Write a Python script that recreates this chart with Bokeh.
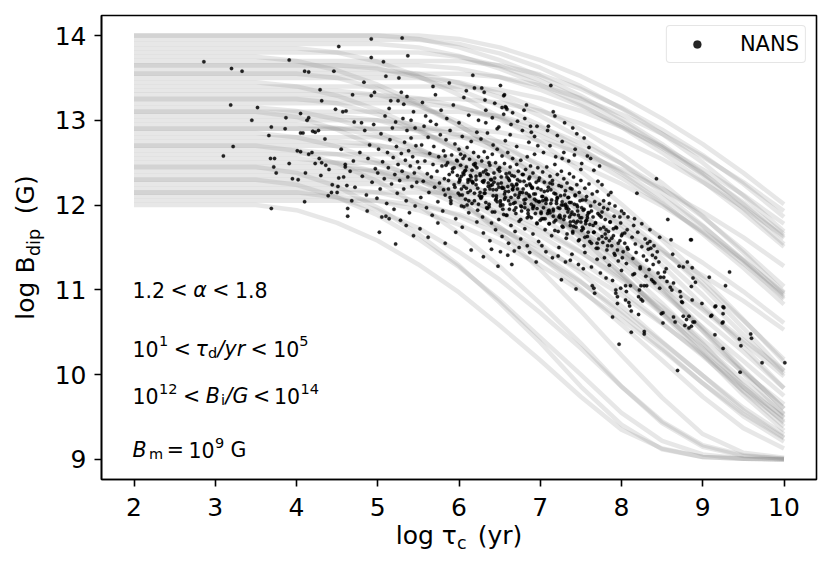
from bokeh.plotting import figure
from bokeh.models import Range1d, FixedTicker, Label, Legend, LegendItem, Title
from bokeh.embed import file_html
from bokeh.resources import INLINE

# ---------------- data: field-decay tracks (log B at each log tau_c) ----------------
track_logtau = [2.0, 2.5, 3.0, 3.5, 4.0, 4.5, 5.0, 5.5, 6.0, 6.5, 7.0, 7.5, 8.0, 8.5, 9.0, 9.5, 10.0]

decay_01 = [12.00, 12.00, 12.00, 12.00, 11.94, 11.79, 11.58, 11.30, 10.97, 10.58, 10.17, 9.74, 9.35, 9.13, 9.03, 9.01, 9.00]
decay_02 = [12.05, 12.05, 12.05, 12.05, 12.05, 12.05, 12.05, 12.00, 11.89, 11.72, 11.50, 11.24, 10.94, 10.60, 10.24, 9.85, 9.50]
decay_03 = [12.10, 12.10, 12.10, 12.10, 12.10, 12.10, 12.05, 11.94, 11.77, 11.55, 11.29, 10.99, 10.65, 10.29, 9.90, 9.54, 9.25]
decay_04 = [12.15, 12.15, 12.15, 12.15, 12.15, 12.15, 12.15, 12.15, 12.15, 12.11, 12.01, 11.86, 11.67, 11.44, 11.17, 10.87, 10.53]
decay_05 = [12.20, 12.20, 12.20, 12.20, 12.20, 12.20, 12.15, 12.04, 11.87, 11.65, 11.39, 11.09, 10.75, 10.38, 9.99, 9.61, 9.30]
decay_06 = [12.25, 12.25, 12.25, 12.25, 12.25, 12.25, 12.25, 12.20, 12.09, 11.92, 11.70, 11.44, 11.14, 10.80, 10.41, 10.03, 9.65]
decay_07 = [12.30, 12.30, 12.30, 12.30, 12.30, 12.30, 12.30, 12.30, 12.25, 12.12, 11.93, 11.69, 11.40, 11.06, 10.67, 10.27, 9.84]
decay_08 = [12.35, 12.35, 12.35, 12.35, 12.35, 12.35, 12.35, 12.30, 12.17, 11.98, 11.74, 11.45, 11.11, 10.72, 10.31, 9.88, 9.49]
decay_09 = [12.40, 12.40, 12.40, 12.40, 12.40, 12.40, 12.40, 12.36, 12.26, 12.11, 11.92, 11.69, 11.42, 11.12, 10.78, 10.41, 10.05]
decay_10 = [12.45, 12.45, 12.45, 12.45, 12.45, 12.45, 12.40, 12.29, 12.12, 11.90, 11.64, 11.34, 11.00, 10.61, 10.22, 9.81, 9.45]
decay_11 = [12.50, 12.50, 12.50, 12.50, 12.50, 12.50, 12.50, 12.50, 12.50, 12.44, 12.29, 12.08, 11.80, 11.47, 11.08, 10.64, 10.18]
decay_12 = [12.55, 12.55, 12.55, 12.55, 12.55, 12.50, 12.39, 12.22, 12.00, 11.74, 11.44, 11.10, 10.71, 10.31, 9.90, 9.51, 9.21]
decay_13 = [12.60, 12.60, 12.60, 12.60, 12.60, 12.60, 12.60, 12.60, 12.56, 12.46, 12.31, 12.12, 11.89, 11.62, 11.32, 10.98, 10.61]
decay_14 = [12.65, 12.65, 12.65, 12.65, 12.65, 12.60, 12.49, 12.32, 12.10, 11.84, 11.54, 11.20, 10.81, 10.39, 9.99, 9.58, 9.26]
decay_15 = [12.70, 12.70, 12.70, 12.70, 12.70, 12.70, 12.70, 12.64, 12.49, 12.28, 12.00, 11.67, 11.28, 10.84, 10.37, 9.86, 9.43]
decay_16 = [12.75, 12.75, 12.75, 12.75, 12.75, 12.75, 12.71, 12.61, 12.46, 12.27, 12.04, 11.77, 11.47, 11.13, 10.76, 10.38, 9.98]
decay_17 = [12.80, 12.80, 12.80, 12.80, 12.80, 12.80, 12.80, 12.80, 12.80, 12.75, 12.64, 12.47, 12.25, 11.99, 11.69, 11.35, 10.96]
decay_18 = [12.85, 12.85, 12.85, 12.85, 12.80, 12.69, 12.52, 12.30, 12.04, 11.74, 11.40, 11.01, 10.59, 10.17, 9.74, 9.37, 9.13]
decay_19 = [12.90, 12.90, 12.90, 12.90, 12.90, 12.90, 12.90, 12.90, 12.84, 12.69, 12.48, 12.20, 11.87, 11.48, 11.04, 10.55, 10.04]
decay_20 = [12.95, 12.95, 12.95, 12.95, 12.95, 12.91, 12.81, 12.66, 12.47, 12.24, 11.97, 11.67, 11.33, 10.96, 10.56, 10.16, 9.75]
decay_21 = [13.00, 13.00, 13.00, 13.00, 13.00, 13.00, 13.00, 12.95, 12.82, 12.63, 12.39, 12.10, 11.76, 11.37, 10.94, 10.47, 10.01]
decay_22 = [13.05, 13.05, 13.05, 13.05, 13.05, 13.05, 13.00, 12.87, 12.68, 12.44, 12.15, 11.81, 11.42, 10.99, 10.52, 10.05, 9.60]
decay_23 = [13.10, 13.10, 13.10, 13.10, 13.10, 13.10, 13.10, 13.10, 13.10, 13.05, 12.92, 12.73, 12.49, 12.20, 11.86, 11.47, 11.04]
decay_24 = [13.15, 13.15, 13.15, 13.15, 13.11, 13.01, 12.86, 12.67, 12.44, 12.17, 11.87, 11.53, 11.16, 10.76, 10.35, 9.93, 9.54]
decay_25 = [13.20, 13.20, 13.20, 13.20, 13.20, 13.20, 13.20, 13.20, 13.15, 13.04, 12.87, 12.65, 12.39, 12.09, 11.75, 11.36, 10.94]
decay_26 = [13.25, 13.25, 13.25, 13.25, 13.25, 13.20, 13.07, 12.88, 12.64, 12.35, 12.01, 11.62, 11.19, 10.72, 10.24, 9.76, 9.34]
decay_27 = [13.30, 13.30, 13.30, 13.30, 13.30, 13.30, 13.30, 13.26, 13.16, 13.01, 12.82, 12.59, 12.32, 12.02, 11.68, 11.31, 10.91]
decay_28 = [13.35, 13.35, 13.35, 13.35, 13.35, 13.35, 13.30, 13.17, 12.98, 12.74, 12.45, 12.11, 11.72, 11.29, 10.82, 10.33, 9.84]
decay_29 = [13.40, 13.40, 13.40, 13.40, 13.40, 13.40, 13.40, 13.40, 13.40, 13.36, 13.26, 13.11, 12.92, 12.69, 12.42, 12.12, 11.78]
decay_30 = [13.45, 13.45, 13.45, 13.45, 13.40, 13.29, 13.12, 12.90, 12.64, 12.34, 12.00, 11.61, 11.19, 10.74, 10.28, 9.80, 9.39]
decay_31 = [13.50, 13.50, 13.50, 13.50, 13.50, 13.50, 13.50, 13.50, 13.45, 13.32, 13.13, 12.89, 12.60, 12.26, 11.87, 11.44, 10.97]
decay_32 = [13.55, 13.55, 13.55, 13.55, 13.55, 13.50, 13.37, 13.18, 12.94, 12.65, 12.31, 11.92, 11.49, 11.02, 10.51, 10.01, 9.53]
decay_33 = [13.60, 13.60, 13.60, 13.60, 13.60, 13.60, 13.60, 13.55, 13.44, 13.27, 13.05, 12.79, 12.49, 12.15, 11.76, 11.34, 10.89]
decay_34 = [13.65, 13.65, 13.65, 13.65, 13.65, 13.65, 13.61, 13.51, 13.36, 13.17, 12.94, 12.67, 12.37, 12.03, 11.66, 11.26, 10.83]
decay_35 = [13.70, 13.70, 13.70, 13.70, 13.70, 13.70, 13.70, 13.70, 13.70, 13.65, 13.54, 13.37, 13.15, 12.89, 12.59, 12.25, 11.86]
decay_36 = [13.75, 13.75, 13.75, 13.75, 13.70, 13.59, 13.42, 13.20, 12.94, 12.64, 12.30, 11.91, 11.49, 11.04, 10.55, 10.06, 9.60]
decay_37 = [13.80, 13.80, 13.80, 13.80, 13.80, 13.80, 13.80, 13.80, 13.75, 13.64, 13.47, 13.25, 12.99, 12.69, 12.35, 11.96, 11.54]
decay_38 = [13.85, 13.85, 13.85, 13.85, 13.85, 13.80, 13.69, 13.52, 13.30, 13.04, 12.74, 12.40, 12.01, 11.59, 11.14, 10.65, 10.15]
decay_39 = [13.90, 13.90, 13.90, 13.90, 13.90, 13.90, 13.90, 13.86, 13.76, 13.61, 13.42, 13.19, 12.92, 12.62, 12.28, 11.91, 11.51]
decay_40 = [14.00, 14.00, 14.00, 14.00, 14.00, 14.00, 14.00, 14.00, 13.96, 13.86, 13.71, 13.52, 13.29, 13.02, 12.72, 12.38, 12.01]
decay_41 = [13.55, 13.55, 13.55, 13.55, 13.55, 13.55, 13.55, 13.55, 13.55, 13.51, 13.41, 13.26, 13.07, 12.84, 12.57, 12.27, 11.93]
decay_42 = [13.95, 13.95, 13.95, 13.95, 13.95, 13.95, 13.95, 13.95, 13.90, 13.79, 13.62, 13.40, 13.14, 12.84, 12.50, 12.11, 11.69]
decay_43 = [13.25, 13.25, 13.25, 13.25, 13.25, 13.25, 13.25, 13.25, 13.25, 13.21, 13.11, 12.96, 12.77, 12.54, 12.27, 11.97, 11.63]
decay_44 = [12.90, 12.90, 12.90, 12.90, 12.90, 12.90, 12.90, 12.90, 12.90, 12.86, 12.76, 12.61, 12.42, 12.19, 11.92, 11.62, 11.28]
decay_45 = [14.00, 14.00, 14.00, 14.00, 14.00, 14.00, 14.00, 13.96, 13.86, 13.71, 13.52, 13.29, 13.02, 12.72, 12.38, 12.01, 11.61]
decay_46 = [13.65, 13.65, 13.65, 13.65, 13.65, 13.65, 13.65, 13.65, 13.61, 13.51, 13.36, 13.17, 12.94, 12.67, 12.37, 12.03, 11.66]
decay_47 = [12.30, 12.30, 12.30, 12.30, 12.24, 12.09, 11.88, 11.60, 11.27, 10.88, 10.44, 10.00, 9.55, 9.22, 9.06, 9.01, 9.00]
decay_48 = [12.70, 12.70, 12.70, 12.70, 12.64, 12.49, 12.28, 12.00, 11.67, 11.28, 10.84, 10.37, 9.86, 9.43, 9.15, 9.04, 9.01]
decay_49 = [12.15, 12.15, 12.15, 12.15, 12.15, 12.09, 11.94, 11.73, 11.45, 11.12, 10.73, 10.31, 9.86, 9.45, 9.17, 9.05, 9.01]
decay_50 = [13.10, 13.10, 13.10, 13.10, 13.04, 12.89, 12.68, 12.40, 12.07, 11.68, 11.24, 10.75, 10.23, 9.73, 9.30, 9.08, 9.02]
decay_51 = [12.45, 12.45, 12.45, 12.45, 12.38, 12.22, 11.97, 11.66, 11.29, 10.85, 10.38, 9.86, 9.41, 9.12, 9.03, 9.01, 9.00]

decay_tracks = [decay_01, decay_02, decay_03, decay_04, decay_05, decay_06, decay_07, decay_08,
                decay_09, decay_10, decay_11, decay_12, decay_13, decay_14, decay_15, decay_16,
                decay_17, decay_18, decay_19, decay_20, decay_21, decay_22, decay_23, decay_24,
                decay_25, decay_26, decay_27, decay_28, decay_29, decay_30, decay_31, decay_32,
                decay_33, decay_34, decay_35, decay_36, decay_37, decay_38, decay_39, decay_40,
                decay_41, decay_42, decay_43, decay_44, decay_45, decay_46, decay_47, decay_48,
                decay_49, decay_50, decay_51]

# ---------------- data: NANS pulsars (log tau_c, log B_dip), read by region ----------------
nans_tau_a = [2.86, 3.20, 3.33, 3.19, 3.52, 3.45, 3.22, 3.10, 3.91, 4.10,
              4.15, 4.52, 4.46, 4.29, 4.31, 4.69, 3.87, 4.05, 4.13, 4.15,
              3.69, 3.66, 3.86, 4.05, 4.08, 4.20, 4.23, 4.27, 4.48, 4.57,
              4.61, 3.68, 3.73, 3.72, 3.75, 3.91, 3.95, 4.02, 4.11, 3.69,
              4.10, 4.63, 4.63, 4.05, 4.01, 4.15, 4.19, 4.28, 4.31, 4.36,
              4.23, 4.30, 4.39, 4.43, 4.44, 4.52, 4.60, 4.60, 4.62, 4.50,
              4.51, 4.40, 4.55, 4.66, 4.70, 4.72, 4.58, 4.68, 4.35, 4.71]
nans_b_a = [13.69, 13.61, 13.58, 13.18, 13.15, 13.00, 12.69, 12.58, 13.71, 13.58,
            13.57, 13.87, 13.58, 13.36, 13.23, 13.30, 13.03, 13.08, 13.00, 13.03,
            12.92, 12.82, 12.90, 12.85, 12.85, 12.87, 12.86, 12.88, 13.13, 13.10,
            13.11, 12.55, 12.55, 12.45, 12.38, 12.49, 12.31, 12.30, 12.38, 11.96,
            12.04, 11.96, 11.87, 12.63, 12.64, 12.60, 12.62, 12.55, 12.50, 12.47,
            12.49, 12.35, 12.11, 12.15, 12.24, 12.32, 12.45, 12.48, 12.23, 12.15,
            12.22, 12.42, 12.66, 12.40, 12.52, 12.21, 12.33, 12.05, 12.78, 12.98]

nans_tau_b = [4.92, 5.30, 4.92, 5.07, 5.37, 5.10, 5.26, 4.83, 4.92, 4.96,
              5.16, 5.25, 5.32, 5.36, 5.29, 5.02, 5.22, 5.44, 5.05, 5.10,
              5.14, 4.78, 4.81, 4.84, 4.86, 4.88, 4.90, 4.93, 4.95, 4.97,
              4.99, 5.01, 5.03, 5.04, 5.06, 5.08, 5.09, 5.11, 5.12, 5.13,
              5.15, 5.17, 5.18, 5.19, 5.20, 5.21, 5.23, 5.24, 5.25, 5.27,
              5.28, 5.29, 5.30, 5.31, 5.32, 5.33, 5.34, 5.35, 5.36, 5.37,
              5.38, 5.39, 5.40, 5.41, 5.42, 5.43, 5.44, 5.45, 5.46, 5.47,
              5.48, 5.49, 4.80, 4.87, 5.00, 5.14, 5.22, 5.35, 5.41, 5.46]
nans_b_b = [13.96, 13.97, 13.74, 13.69, 13.76, 13.52, 13.50, 13.45, 13.29, 13.33,
            13.23, 13.23, 13.19, 13.28, 13.33, 11.68, 11.54, 11.64, 11.86, 11.87,
            11.84, 12.62, 12.34, 12.88, 12.12, 12.55, 12.71, 12.27, 12.95, 12.43,
            12.08, 12.66, 12.19, 12.84, 12.51, 12.31, 13.05, 12.02, 12.62, 12.44,
            12.77, 12.25, 12.91, 12.56, 11.95, 12.36, 12.69, 12.14, 12.48, 12.29,
            11.82, 12.61, 12.40, 13.02, 12.19, 12.74, 12.53, 12.05, 12.88, 12.33,
            12.64, 11.91, 12.46, 12.79, 12.22, 12.57, 13.10, 12.38, 11.99, 12.70,
            12.27, 12.51, 12.97, 11.93, 12.38, 13.14, 12.98, 11.76, 13.00, 12.91]

nans_tau_c = [5.51, 5.53, 5.54, 5.56, 5.57, 5.58, 5.60, 5.61, 5.62, 5.63,
              5.64, 5.66, 5.67, 5.68, 5.69, 5.70, 5.72, 5.73, 5.74, 5.75,
              5.76, 5.77, 5.79, 5.80, 5.81, 5.82, 5.83, 5.84, 5.86, 5.87,
              5.88, 5.89, 5.90, 5.91, 5.92, 5.94, 5.95, 5.96, 5.97, 5.98,
              5.99, 6.00, 6.01, 6.02, 6.03, 6.04, 6.05, 6.06, 6.07, 6.08,
              6.09, 6.10, 6.11, 6.12, 6.13, 6.14, 6.15, 6.16, 6.17, 6.18,
              6.19, 6.20, 6.21, 6.22, 6.23, 6.24, 5.55, 5.59, 5.65, 5.71,
              5.78, 5.85, 5.93, 6.00, 6.06, 6.12, 6.19, 6.24, 5.52, 5.62,
              5.74, 5.83, 5.96, 6.04, 6.15, 6.22, 5.68, 5.88, 6.09, 6.17]
nans_b_c = [12.44, 12.09, 12.71, 12.28, 12.93, 12.52, 11.97, 12.37, 12.80, 12.15,
            12.61, 12.33, 11.88, 12.48, 12.69, 12.21, 12.95, 12.40, 12.04, 12.57,
            12.26, 12.83, 12.46, 11.93, 12.64, 12.31, 12.12, 12.77, 12.50, 12.19,
            12.36, 12.88, 12.02, 12.59, 12.43, 12.24, 12.72, 11.84, 12.53, 12.35,
            12.14, 12.66, 12.29, 12.47, 11.99, 12.81, 12.38, 12.22, 12.58, 12.07,
            12.45, 12.68, 12.30, 11.91, 12.54, 12.17, 12.75, 12.41, 12.27, 12.62,
            12.05, 12.49, 12.34, 12.86, 12.20, 12.57, 13.21, 13.05, 12.99, 13.30,
            13.12, 13.02, 13.18, 12.97, 13.27, 13.06, 13.38, 13.00, 11.72, 11.62,
            11.79, 11.55, 11.68, 11.74, 11.47, 11.80, 13.40, 13.44, 13.35, 13.53]

nans_tau_d = [6.28, 6.31, 6.32, 6.33, 6.51, 6.56, 6.57, 6.59, 6.55, 6.53,
              6.58, 6.80, 6.88, 6.30, 6.48, 6.65, 6.95, 6.51, 6.68, 6.26,
              6.27, 6.28, 6.29, 6.30, 6.31, 6.32, 6.33, 6.34, 6.35, 6.36,
              6.37, 6.38, 6.39, 6.40, 6.41, 6.42, 6.43, 6.44, 6.45, 6.46,
              6.47, 6.48, 6.49, 6.50, 6.51, 6.52, 6.53, 6.54, 6.55, 6.56,
              6.57, 6.58, 6.59, 6.60, 6.61, 6.62, 6.63, 6.64, 6.65, 6.66,
              6.67, 6.68, 6.69, 6.70, 6.71, 6.72, 6.73, 6.74, 6.75, 6.76,
              6.77, 6.78, 6.79, 6.80, 6.81, 6.82, 6.83, 6.84, 6.85, 6.86,
              6.87, 6.88, 6.89, 6.90, 6.91, 6.92, 6.93, 6.94, 6.95, 6.96,
              6.97, 6.98, 6.99, 6.27, 6.35, 6.42, 6.49, 6.57, 6.63, 6.71,
              6.78, 6.86, 6.93, 6.30, 6.38, 6.45, 6.53, 6.61, 6.69, 6.76,
              6.84, 6.91, 6.98, 6.33, 6.41, 6.47, 6.55, 6.64, 6.72, 6.81,
              6.89, 6.96, 6.40, 6.60, 6.74, 6.87, 6.44, 6.66, 6.83, 6.97]
nans_b_d = [13.38, 13.33, 13.24, 13.12, 13.41, 13.30, 13.16, 13.13, 13.29, 13.15,
            13.15, 13.12, 12.93, 11.39, 11.28, 11.30, 11.33, 11.45, 11.46, 12.35,
            12.08, 12.52, 11.86, 12.27, 12.63, 12.14, 12.41, 11.97, 12.56, 12.22,
            12.01, 12.47, 12.30, 11.79, 12.60, 12.18, 12.38, 11.92, 12.50, 12.11,
            12.66, 12.25, 11.83, 12.44, 12.05, 12.33, 12.58, 11.95, 12.20, 12.49,
            12.09, 12.37, 11.88, 12.62, 12.16, 12.29, 12.45, 11.76, 12.24, 12.55,
            12.02, 12.34, 12.12, 11.90, 12.48, 12.19, 12.40, 11.81, 12.28, 12.53,
            11.98, 12.15, 12.36, 12.06, 11.72, 12.42, 12.23, 12.57, 11.94, 12.31,
            12.10, 12.46, 11.85, 12.21, 12.38, 11.99, 12.60, 12.13, 12.27, 11.78,
            12.44, 12.04, 12.32, 12.78, 12.85, 12.71, 12.92, 12.76, 12.83, 12.69,
            12.88, 12.74, 12.81, 11.67, 11.58, 11.71, 11.63, 11.55, 11.69, 11.60,
            11.52, 11.66, 11.57, 12.97, 13.03, 12.90, 13.07, 12.95, 12.99, 13.02,
            12.86, 12.93, 11.48, 11.41, 11.50, 11.44, 13.20, 13.09, 13.18, 12.70]

nans_tau_e = [7.13, 7.16, 7.10, 7.21, 7.42, 7.54, 7.50, 7.27, 7.29, 7.71,
              7.26, 7.44, 7.67, 7.66, 7.64, 7.01, 7.02, 7.03, 7.04, 7.05,
              7.06, 7.07, 7.08, 7.09, 7.10, 7.11, 7.12, 7.13, 7.14, 7.15,
              7.16, 7.17, 7.18, 7.19, 7.20, 7.21, 7.22, 7.23, 7.24, 7.25,
              7.26, 7.27, 7.28, 7.29, 7.30, 7.31, 7.32, 7.33, 7.34, 7.35,
              7.36, 7.37, 7.38, 7.39, 7.40, 7.41, 7.42, 7.43, 7.44, 7.45,
              7.46, 7.47, 7.48, 7.49, 7.50, 7.51, 7.52, 7.53, 7.54, 7.55,
              7.56, 7.57, 7.58, 7.59, 7.60, 7.61, 7.62, 7.63, 7.64, 7.65,
              7.66, 7.67, 7.68, 7.69, 7.70, 7.71, 7.72, 7.73, 7.74, 7.04,
              7.12, 7.19, 7.27, 7.35, 7.43, 7.51, 7.58, 7.66, 7.73, 7.07,
              7.15, 7.23, 7.31, 7.39, 7.47, 7.55, 7.63, 7.70, 7.09, 7.30,
              7.45, 7.60, 7.02, 7.22, 7.37, 7.53, 7.18, 7.40, 7.62, 7.74]
nans_b_e = [13.41, 13.10, 12.93, 12.82, 12.59, 12.79, 12.42, 12.55, 12.62, 12.28,
            11.12, 11.01, 10.96, 11.02, 11.05, 12.18, 11.84, 12.39, 11.97, 12.27,
            11.71, 12.08, 12.45, 11.90, 12.21, 11.78, 12.34, 12.02, 11.64, 12.29,
            11.93, 12.14, 12.48, 11.82, 12.05, 12.36, 11.69, 12.23, 11.96, 12.11,
            12.40, 11.75, 12.00, 12.31, 11.87, 12.17, 11.61, 12.26, 11.92, 12.09,
            12.37, 11.80, 12.03, 12.19, 11.67, 12.33, 11.89, 12.12, 11.74, 12.24,
            11.98, 11.58, 12.15, 11.85, 12.29, 11.70, 12.06, 11.94, 11.52, 12.20,
            11.81, 12.10, 11.63, 11.91, 12.25, 11.77, 11.99, 11.55, 12.13, 11.86,
            11.68, 12.04, 11.79, 11.49, 12.16, 11.90, 11.60, 12.01, 11.72, 12.62,
            12.70, 12.57, 12.75, 12.52, 12.66, 12.49, 12.58, 12.41, 12.46, 11.45,
            11.38, 11.50, 11.33, 11.42, 11.30, 11.44, 11.27, 11.36, 12.88, 12.97,
            12.84, 12.68, 11.52, 11.40, 11.35, 11.25, 13.05, 12.91, 12.55, 11.20]

nans_tau_f = [7.87, 8.19, 8.43, 7.97, 8.12, 8.28, 8.28, 7.89, 8.21, 8.44,
              8.36, 8.32, 7.95, 7.95, 7.93, 7.93, 8.28, 8.24, 8.22, 8.21,
              8.24, 8.26, 8.11, 8.05, 8.05, 8.09, 8.10, 8.12, 7.76, 7.77,
              7.78, 7.79, 7.80, 7.81, 7.82, 7.83, 7.84, 7.85, 7.86, 7.88,
              7.90, 7.91, 7.92, 7.94, 7.96, 7.98, 7.99, 8.00, 8.01, 8.02,
              8.03, 8.04, 8.06, 8.07, 8.08, 8.13, 8.14, 8.15, 8.16, 8.17,
              8.18, 8.20, 8.23, 8.25, 8.27, 8.29, 8.30, 8.31, 8.33, 8.34,
              8.35, 8.37, 8.38, 8.39, 8.40, 8.41, 8.42, 8.45, 8.46, 8.47,
              8.48, 7.78, 7.84, 7.92, 8.00, 8.08, 8.16, 8.25, 8.35, 8.47,
              7.81, 7.89, 7.99, 8.06, 8.14, 8.23, 8.31, 8.39, 7.76, 7.85]
nans_b_f = [12.15, 12.14, 12.31, 10.36, 10.50, 10.51, 10.48, 10.68, 10.71, 11.45,
            11.49, 11.55, 10.92, 10.84, 10.96, 11.00, 11.05, 11.05, 11.00, 10.92,
            10.89, 10.87, 11.05, 11.05, 10.88, 10.85, 10.81, 10.75, 11.92, 11.56,
            11.74, 11.38, 11.83, 11.61, 11.47, 11.95, 11.69, 11.29, 11.80, 11.52,
            11.64, 11.87, 11.41, 11.73, 11.34, 11.58, 11.79, 11.23, 11.66, 11.45,
            11.90, 11.55, 11.31, 11.71, 11.48, 11.62, 11.37, 11.76, 11.19, 11.54,
            11.44, 11.68, 11.27, 11.51, 11.40, 11.60, 11.16, 11.35, 11.48, 11.24,
            11.57, 11.12, 11.41, 11.30, 11.52, 11.08, 11.38, 11.20, 11.33, 11.02,
            11.15, 12.05, 12.12, 11.99, 11.93, 11.86, 11.84, 11.78, 11.71, 11.62,
            11.14, 11.11, 11.02, 10.98, 11.18, 11.25, 11.05, 11.10, 12.24, 12.02]

nans_tau_g = [8.57, 8.61, 8.86, 9.33, 9.08, 9.28, 9.16, 9.26, 9.25, 9.11,
              9.24, 9.15, 9.45, 9.59, 9.60, 9.47, 9.25, 9.73, 10.01, 9.46,
              8.69, 8.51, 8.66, 8.64, 8.80, 8.78, 8.83, 8.86, 8.88, 8.83,
              8.76, 8.99, 8.87, 8.75, 8.73, 8.72, 8.88, 8.91, 8.86, 8.87,
              8.81, 8.76, 8.71, 8.63, 8.85, 8.53, 8.52, 8.56, 8.60, 8.62,
              8.64, 8.55, 8.49, 8.51, 9.25, 9.25, 9.15, 9.10, 8.90, 8.74]
nans_b_g = [11.83, 11.59, 11.59, 11.21, 11.15, 11.05, 10.81, 10.79, 10.72, 10.70,
            10.61, 10.47, 10.42, 10.48, 10.43, 10.34, 10.31, 10.14, 10.14, 10.03,
            10.05, 10.61, 10.62, 10.68, 10.65, 10.58, 10.55, 10.57, 10.62, 10.69,
            10.69, 10.84, 10.88, 10.85, 10.92, 10.98, 11.14, 11.09, 11.04, 11.26,
            11.33, 11.27, 11.28, 11.42, 11.59, 11.21, 11.15, 11.10, 11.03, 11.00,
            11.08, 11.25, 10.72, 10.73, 10.62, 10.80, 10.80, 10.69, 10.62, 10.86]

nans_tau_h = [5.81, 5.84, 5.87, 5.90, 5.92, 5.95, 5.98, 6.01, 6.03, 6.06,
              6.08, 6.11, 6.13, 6.16, 6.18, 6.21, 6.23, 6.26, 6.28, 6.31,
              6.33, 6.36, 6.38, 6.41, 6.43, 6.46, 6.48, 6.51, 6.53, 6.56,
              6.58, 6.61, 6.63, 6.66, 6.68, 6.71, 6.73, 6.76, 6.78, 6.81,
              6.83, 6.86, 6.88, 6.91, 6.93, 6.96, 6.98, 7.01, 7.03, 7.06,
              7.08, 7.11, 7.13, 7.16, 7.18, 7.21, 7.23, 7.26, 7.28, 7.31,
              7.33, 7.36, 7.38, 7.41, 7.43, 7.46, 7.48, 7.51, 7.53, 7.56,
              7.58, 7.61, 7.63, 7.66, 7.68, 7.71, 7.73, 7.76, 7.78, 7.81,
              7.83, 7.86, 7.88, 7.91, 7.93, 7.96, 7.98, 8.01, 8.04, 8.07,
              5.83, 5.89, 5.94, 6.00, 6.05, 6.10, 6.15, 6.20, 6.25, 6.30,
              6.35, 6.40, 6.45, 6.50, 6.55, 6.60, 6.65, 6.70, 6.75, 6.80,
              6.85, 6.90, 6.95, 7.00, 7.05, 7.10, 7.15, 7.20, 7.25, 7.30,
              7.35, 7.40, 7.45, 7.50, 7.55, 7.60, 7.65, 7.70, 7.75, 7.80,
              7.85, 7.90, 7.95, 8.00, 6.02, 6.37, 6.62, 6.87, 7.12, 7.37]
nans_b_h = [12.18, 12.47, 12.29, 12.05, 12.39, 12.21, 12.52, 12.12, 12.34, 11.98,
            12.41, 12.15, 12.30, 12.02, 12.48, 12.24, 11.94, 12.37, 12.10, 12.29,
            12.03, 12.36, 12.19, 11.92, 12.27, 12.08, 12.42, 11.99, 12.21, 12.13,
            11.88, 12.31, 12.01, 12.18, 11.94, 12.25, 12.09, 11.83, 12.36, 12.02,
            12.14, 11.87, 12.23, 11.96, 12.07, 11.79, 12.29, 11.92, 12.10, 11.84,
            12.06, 11.78, 12.18, 11.95, 11.70, 12.09, 11.86, 12.22, 11.74, 12.01,
            11.66, 12.03, 11.89, 11.75, 12.11, 11.81, 11.59, 11.97, 11.72, 12.06,
            11.85, 11.57, 11.93, 11.68, 11.79, 11.49, 11.88, 11.63, 11.97, 11.71,
            11.52, 11.80, 11.61, 11.43, 11.74, 11.55, 11.86, 11.38, 11.67, 11.50,
            12.58, 12.09, 12.44, 12.27, 12.55, 12.00, 12.33, 12.46, 12.11, 12.39,
            11.96, 12.30, 12.06, 12.40, 11.89, 12.22, 12.35, 11.97, 12.15, 12.28,
            11.90, 12.20, 12.05, 11.82, 12.16, 11.93, 12.25, 12.02, 11.85, 12.12,
            11.95, 11.69, 12.00, 11.80, 11.62, 11.91, 11.76, 11.55, 11.86, 11.66,
            11.58, 11.72, 11.47, 11.64, 12.60, 12.50, 12.38, 12.33, 12.26, 12.20]

nans_tau_i = [6.01, 6.04, 6.07, 6.09, 6.12, 6.14, 6.17, 6.19, 6.22, 6.24,
              6.27, 6.29, 6.32, 6.34, 6.37, 6.39, 6.42, 6.44, 6.47, 6.49,
              6.52, 6.54, 6.57, 6.59, 6.62, 6.64, 6.67, 6.69, 6.72, 6.74,
              6.77, 6.79, 6.82, 6.84, 6.87, 6.89, 6.92, 6.94, 6.97, 6.99,
              7.02, 7.04, 7.07, 7.09, 7.12, 7.14, 7.17, 7.19, 7.22, 7.24,
              7.27, 7.29, 7.32, 7.34, 7.37, 7.39, 7.42, 7.44, 7.47, 7.49,
              7.52, 7.54, 7.57, 7.59, 6.06, 6.16, 6.26, 6.36, 6.46, 6.56,
              6.66, 6.76, 6.86, 6.96, 7.06, 7.16, 7.26, 7.36, 7.46, 7.56,
              6.11, 6.31, 6.51, 6.71, 6.91, 7.11, 7.31, 7.51, 6.21, 6.41,
              6.61, 6.81, 7.01, 7.21, 7.41, 6.03, 6.53, 7.03, 7.33, 7.58]
nans_b_i = [12.31, 12.12, 12.40, 12.20, 12.05, 12.35, 12.26, 12.14, 12.44, 12.01,
            12.09, 12.28, 12.18, 12.37, 11.98, 12.23, 12.11, 12.32, 12.04, 12.21,
            12.26, 12.00, 12.16, 12.33, 11.95, 12.09, 12.22, 12.03, 12.30, 12.12,
            11.93, 12.19, 12.07, 11.85, 12.25, 12.01, 12.13, 11.90, 12.20, 12.04,
            12.10, 11.84, 12.02, 12.17, 11.91, 12.06, 11.80, 12.13, 11.97, 11.88,
            12.04, 11.83, 11.96, 12.09, 11.76, 11.92, 12.01, 11.79, 11.88, 12.05,
            11.74, 11.95, 11.82, 11.68, 12.36, 12.28, 12.15, 12.26, 12.18, 12.07,
            12.19, 11.99, 12.12, 11.96, 12.06, 11.87, 12.00, 11.86, 11.93, 11.78,
            12.27, 12.14, 12.02, 12.24, 11.98, 11.94, 11.99, 11.85, 12.30, 12.24,
            12.05, 11.97, 11.90, 12.08, 11.81, 12.19, 12.20, 12.05, 11.98, 11.88]

x_ticks = [2, 3, 4, 5, 6, 7, 8, 9, 10]
y_ticks = [9, 10, 11, 12, 13, 14]
legend_label = "NANS"

# ---------------- figure ----------------
FONT = "DejaVu Sans"
NB = "\u00a0"
p = figure(width=823, height=563, output_backend="svg", toolbar_location=None, title=None,
           x_range=Range1d(1.6, 10.4), y_range=Range1d(8.764, 14.236),
           min_border_left=101, min_border_right=7, min_border_top=15, min_border_bottom=84)
p.background_fill_color = "white"
p.border_fill_color = "white"
p.outline_line_color = "black"
p.outline_line_width = 1.6
p.grid.visible = False

for ax, ticks in ((p.xaxis, x_ticks), (p.yaxis, y_ticks)):
    ax.ticker = FixedTicker(ticks=ticks)
    ax.major_label_text_font = FONT
    ax.major_label_text_font_size = "25px"
    ax.major_label_text_color = "black"
    ax.major_tick_out = 7
    ax.major_tick_in = 0
    ax.minor_tick_out = 0
    ax.minor_tick_in = 0
    ax.major_tick_line_width = 1.6
    ax.axis_line_width = 1.6
    ax.axis_label_text_font = FONT
    ax.axis_label_text_font_size = "25px"
    ax.axis_label_text_font_style = "normal"
    ax.axis_label_text_color = "black"

p.xaxis.major_label_standoff = 11
p.yaxis.major_label_standoff = 8
p.xaxis.axis_label = "log τ" + NB + NB + "\u2009(yr)"
p.xaxis.axis_label_standoff = 2
p.yaxis.axis_label = "log B" + NB * 5 + "\u200a(G)"
p.yaxis.axis_label_standoff = 12

# decay tracks
xs = [track_logtau[:len(t)] for t in decay_tracks]
p.multi_line(xs=xs, ys=decay_tracks, line_color="#808080", line_alpha=0.19, line_width=4.5)

# pulsars
all_tau = (nans_tau_a + nans_tau_b + nans_tau_c + nans_tau_d + nans_tau_e + nans_tau_f
           + nans_tau_g + nans_tau_h + nans_tau_i)
all_b = (nans_b_a + nans_b_b + nans_b_c + nans_b_d + nans_b_e + nans_b_f
         + nans_b_g + nans_b_h + nans_b_i)
n = min(len(all_tau), len(all_b))
sc = p.scatter(all_tau[:n], all_b[:n], size=3.5, marker="circle",
               fill_color="black", line_color="black", line_width=0.3, alpha=0.85)

legend = Legend(items=[LegendItem(label=legend_label, renderers=[sc])], location="top_right")
legend.margin = 10
legend.padding = 6
legend.glyph_width = 48
legend.glyph_height = 20
legend.label_height = 20
legend.label_standoff = 19
legend.label_text_font = FONT
legend.label_text_font_size = "21px"
legend.label_text_color = "black"
legend.border_line_color = "#cccccc"
legend.border_line_width = 1.2
legend.background_fill_color = "white"
legend.background_fill_alpha = 0.8
if "border_radius" in Legend.properties():
    legend.border_radius = 4
p.add_layout(legend)

# subscripts of the axis labels (side-panel titles)
sub_c = Title(text="c", align="left", vertical_align="top", offset=355.5,
              text_font=FONT, text_font_size="17.5px", text_font_style="normal", text_color="black")
try:
    sub_c.standoff = -39
except Exception:
    sub_c.standoff = 0
p.add_layout(sub_c, "below")

sub_dip = Title(text="dip", align="left", vertical_align="bottom", offset=223.5,
                text_font=FONT, text_font_size="17.5px", text_font_style="normal", text_color="black")
try:
    sub_dip.standoff = -73
except Exception:
    sub_dip.standoff = 0
p.add_layout(sub_dip, "left")

# annotations, positioned in page pixels relative to the frame
FL, FB = 101.0, 479.0


def put(px, py, txt, size, style="normal"):
    p.add_layout(Label(x=px - FL, y=FB - py, x_units="screen", y_units="screen", text=txt,
                       text_font=FONT, text_font_size=f"{size}px", text_font_style=style,
                       text_color="black", text_align="left", text_baseline="alphabetic"))


F, S = 20.5, 14.5
X0 = 132.0
b1, b2, b3, b4 = 289.0, 348.0, 395.5, 449.5
put(X0 + 0.0, b1, "1.2", F)
put(X0 + 38.1, b1, "<", F)
put(X0 + 60.8, b1, "α", F, "italic")
put(X0 + 79.8, b1, "<", F)
put(X0 + 102.5, b1, "1.8", F)

put(X0 + 0.0, b2, "10", F)
put(X0 + 26.6, b2 - 7.5, "1", S)
put(X0 + 41.3, b2, "<", F)
put(X0 + 63.0, b2, "τ", F, "italic")
put(X0 + 75.5, b2 + 4.0, "d", S)
put(X0 + 85.1, b2, "/yr", F, "italic")
put(X0 + 118.0, b2, "<", F)
put(X0 + 140.7, b2, "10", F)
put(X0 + 166.8, b2 - 7.5, "5", S)

put(X0 + 0.0, b3, "10", F)
put(X0 + 26.6, b3 - 7.5, "12", S)
put(X0 + 50.5, b3, "<", F)
put(X0 + 73.2, b3, "B", F, "italic")
put(X0 + 88.5, b3 + 4.0, "i", S)
put(X0 + 93.0, b3, "/G", F, "italic")
put(X0 + 120.5, b3, "<", F)
put(X0 + 141.5, b3, "10", F)
put(X0 + 168.0, b3 - 7.5, "14", S)

put(X0 + 0.0, b4, "B", F, "italic")
put(X0 + 16.5, b4 + 4.0, "m", S)
put(X0 + 34.2, b4, "=", F)
put(X0 + 56.0, b4, "10", F)
put(X0 + 82.5, b4 - 7.5, "9", S)
put(X0 + 98.0, b4, "G", F)

open("out.html", "w").write(file_html(p, INLINE))
